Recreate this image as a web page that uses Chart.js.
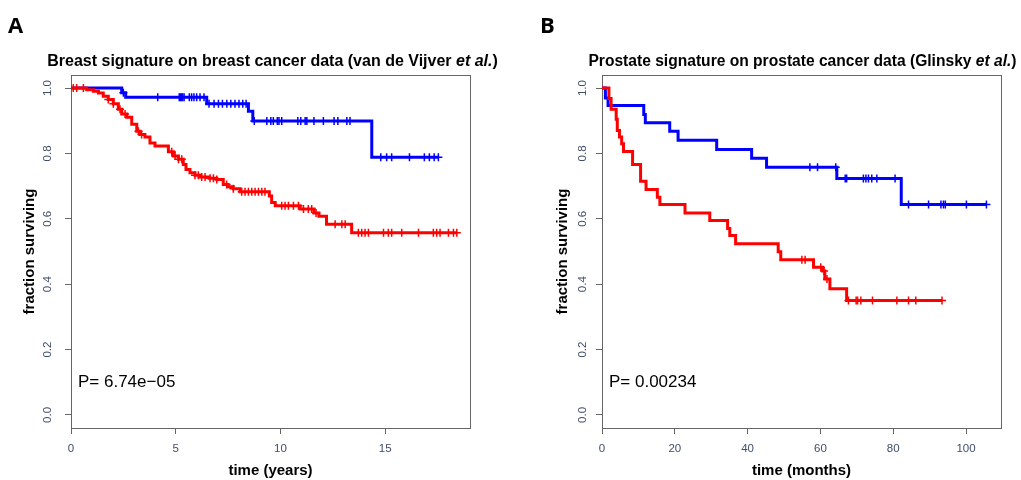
<!DOCTYPE html>
<html>
<head>
<meta charset="utf-8">
<script src="https://cdn.jsdelivr.net/npm/chart.js@4/dist/chart.umd.min.js"></script>
<style>
  body { margin: 0; background: #fff; }
  #wrap { position: relative; width: 1021px; height: 480px; }
  canvas { position: absolute; top: 0; }
  #graficoA { left: 0; }
  #graficoB { left: 510px; }
</style>
</head>
<body>
<div id="wrap">
  <canvas id="graficoA" width="510" height="480"></canvas>
  <canvas id="graficoB" width="511" height="480"></canvas>
</div>
<script>
// --- DATA ---
const yTicks = [0, 0.2, 0.4, 0.6, 0.8, 1.0];
const breastXTicks = [0, 5, 10, 15];
const prostateXTicks = [0, 20, 40, 60, 80, 100];

// breast (years) - low risk group, blue
const breastBlueTimes = [0, 2.42, 2.61, 6.48, 8.47, 8.68, 14.36, 17.54];
const breastBlueSurv  = [1, 0.986, 0.972, 0.952, 0.929, 0.899, 0.788, 0.788];
const breastBlueCensor = [2.5, 4.14, 5.17, 5.22, 5.28, 5.33, 5.4, 5.65, 5.76, 5.87, 6.0, 6.16, 6.35,
  6.59, 6.83, 7.04, 7.23, 7.44, 7.63, 7.83, 8.02, 8.2, 8.36,
  8.75, 9.35, 9.54, 9.66, 9.85, 9.93, 10.06, 10.83, 10.97, 11.18, 11.26, 11.6, 12.05, 12.56, 12.74, 13.17, 13.32,
  14.79, 15.07, 15.31, 16.16, 16.87, 17.11, 17.34, 17.54];

// breast (years) - high risk group, red
const breastRedTimes = [0, 0.75, 1.07, 1.31, 1.54, 1.78, 2.02, 2.26, 2.42, 2.66, 2.9, 3.14, 3.3, 3.53, 3.77, 4.01,
  4.65, 4.89, 5.13, 5.36, 5.49, 5.68, 5.92, 6.16, 6.6, 6.96, 7.27, 7.5, 7.75, 8.07,
  9.47, 9.58, 9.75, 10.94, 11.6, 11.84, 12.2, 13.4, 18.42];
const breastRedSurv = [1, 0.995, 0.99, 0.985, 0.975, 0.965, 0.952, 0.935, 0.921, 0.911, 0.889, 0.868, 0.858, 0.85, 0.832, 0.823,
  0.805, 0.792, 0.782, 0.766, 0.751, 0.741, 0.733, 0.728, 0.724, 0.72, 0.705, 0.698, 0.692, 0.683,
  0.67, 0.65, 0.64, 0.63, 0.618, 0.608, 0.583, 0.557, 0.557];
const breastRedCensor = [0.11, 0.27, 0.59, 1.78, 2.02, 2.34, 2.58, 3.22, 3.37, 4.81, 4.97, 5.13, 5.29,
  5.92, 6.08, 6.24, 6.4, 6.64, 6.8, 6.96, 7.43, 7.75,
  8.15, 8.31, 8.47, 8.63, 8.79, 8.95, 9.11, 9.26,
  10.06, 10.22, 10.38, 10.62, 10.86, 11.1, 11.33, 11.49, 11.7,
  12.61, 12.93, 13.09,
  13.72, 13.88, 14.04, 14.2, 14.92, 15.15, 15.31, 15.79, 16.59, 17.3, 17.46, 17.62, 18.02, 18.26, 18.42];

// prostate (months) - low risk group, blue
const prostateBlueTimes = [0, 0.93, 1.66, 11.47, 11.9, 18.6, 20.9, 31.5, 41.1, 45.2, 64.5, 82.2, 105.6];
const prostateBlueSurv  = [1, 0.97, 0.947, 0.919, 0.894, 0.868, 0.84, 0.812, 0.785, 0.758, 0.723, 0.644, 0.644];
const prostateBlueCensor = [57.1, 59.2, 64.2, 66.8, 67.2, 71.8, 72.5, 73.2, 74.1, 75.5, 80.5,
  84.2, 89.7, 93.1, 93.8, 94.3, 100.1, 105.6];

// prostate (months) - high risk group, red
const prostateRedTimes = [0, 1.9, 2.5, 3.9, 4.2, 4.8, 5.4, 5.9, 8.4, 10.6, 12.1, 15.2, 15.9, 22.8, 29.6,
  34.5, 35.1, 36.7, 48.4, 49.1, 58.1, 60.6, 61.2, 62.6, 67.2, 93.4];
const prostateRedSurv = [1, 0.968, 0.935, 0.905, 0.87, 0.85, 0.83, 0.806, 0.766, 0.715, 0.69, 0.666, 0.644, 0.618, 0.595,
  0.57, 0.549, 0.524, 0.499, 0.475, 0.452, 0.44, 0.416, 0.386, 0.35, 0.35];
const prostateRedCensor = [54.9, 55.8, 60.1, 61.0, 61.8, 67.7, 69.8, 70.2, 71.1, 74.3, 81.0, 84.2, 86.2, 93.4];

// --- HELPERS ---
function survAt(times, surv, t) {
  let s = surv[0];
  for (let i = 0; i < times.length; i++) {
    if (times[i] <= t) s = surv[i];
  }
  return s;
}

function stepSet(times, surv, color) {
  return {
    type: 'line',
    data: times.map((t, i) => ({ x: t, y: surv[i] })),
    borderColor: color,
    borderWidth: 3,
    stepped: true,
    pointRadius: 0,
    fill: false,
    borderCapStyle: 'butt',
    borderJoinStyle: 'miter'
  };
}

function censorSet(times, surv, censor, color) {
  return {
    type: 'scatter',
    data: censor.map(t => ({ x: t, y: survAt(times, surv, t) })),
    borderColor: color,
    backgroundColor: color,
    pointStyle: 'cross',
    pointRadius: 4,
    borderWidth: 1.5,
    showLine: false
  };
}

// box, panel letter, title and p value
const panelPlugin = {
  id: 'panel',
  beforeDatasetsDraw(chart, args, opts) {
    const ctx = chart.ctx, a = chart.chartArea;
    ctx.save();
    ctx.strokeStyle = '#666';
    ctx.lineWidth = 1;
    ctx.strokeRect(Math.round(a.left) + 0.5, Math.round(a.top) + 0.5,
      Math.round(a.right - a.left), Math.round(a.bottom - a.top));
    ctx.restore();
  },
  afterDraw(chart, args, opts) {
    const ctx = chart.ctx, a = chart.chartArea;
    ctx.save();
    ctx.fillStyle = '#000';
    ctx.textBaseline = 'alphabetic';
    ctx.font = 'bold 22px "Open Sans"';
    ctx.fillText(opts.letter, opts.letterX, 33);

    const f1 = 'bold ' + opts.titleSize + 'px "Liberation Sans"';
    const f2 = 'italic bold ' + opts.titleSize + 'px "Liberation Sans"';
    const parts = [[opts.title, f1], ['et al.', f2], [')', f1]];
    let w = 0;
    parts.forEach(p => { ctx.font = p[1]; w += ctx.measureText(p[0]).width; });
    let x = opts.titleCenter - w / 2;
    ctx.textBaseline = 'middle';
    parts.forEach(p => { ctx.font = p[1]; ctx.fillText(p[0], x, 62); x += ctx.measureText(p[0]).width; });

    ctx.font = '17px "Liberation Sans"';
    ctx.fillText(opts.pText, a.left + 7, 382);
    ctx.restore();
  }
};

Chart.defaults.font.family = '"Liberation Sans", Arial, sans-serif';
const tickColor = '#414d6a';

function makeChart(id, cfg) {
  return new Chart(document.getElementById(id), {
    type: 'line',
    data: {
      datasets: [
        censorSet(cfg.redTimes, cfg.redSurv, cfg.redCensor, '#ff0000'),
        stepSet(cfg.redTimes, cfg.redSurv, '#ff0000'),
        censorSet(cfg.blueTimes, cfg.blueSurv, cfg.blueCensor, '#0000ff'),
        stepSet(cfg.blueTimes, cfg.blueSurv, '#0000ff')
      ]
    },
    plugins: [panelPlugin],
    options: {
      responsive: false,
      animation: false,
      layout: { padding: { top: 75, left: 0, right: cfg.padRight, bottom: 0 } },
      plugins: {
        legend: { display: false },
        tooltip: { enabled: false },
        panel: cfg.panel
      },
      scales: {
        x: {
          type: 'linear',
          min: 0,
          max: cfg.xMax,
          afterBuildTicks: s => { s.ticks = cfg.xTicks.map(v => ({ value: v })); },
          afterFit: s => { s.height = 52; },
          grid: { drawOnChartArea: false, tickLength: 6, tickColor: '#666', tickWidth: 1 },
          border: { display: true, color: '#666', width: 1 },
          ticks: { color: tickColor, font: { size: 11.5 }, padding: 8, maxRotation: 0, autoSkip: false },
          title: { display: true, text: cfg.xTitle, color: '#000', font: { size: 15, weight: 'bold' }, padding: { top: 0, bottom: 0 } }
        },
        y: {
          type: 'linear',
          min: -0.04,
          max: 1.04,
          afterBuildTicks: s => { s.ticks = yTicks.map(v => ({ value: v })); },
          afterFit: s => { s.width = cfg.yWidth; },
          grid: { drawOnChartArea: false, tickLength: 6, tickColor: '#666', tickWidth: 1 },
          border: { display: true, color: '#666', width: 1 },
          ticks: {
            color: tickColor, font: { size: 11.5 }, padding: cfg.yPad,
            minRotation: 90, maxRotation: 90, crossAlign: 'center', autoSkip: false,
            callback: v => v.toFixed(1)
          },
          title: { display: true, text: 'fraction surviving', color: '#000', font: { size: 15, weight: 'bold' }, padding: { top: cfg.yTitlePad, bottom: 0 } }
        }
      }
    }
  });
}

makeChart('graficoA', {
  blueTimes: breastBlueTimes, blueSurv: breastBlueSurv, blueCensor: breastBlueCensor,
  redTimes: breastRedTimes, redSurv: breastRedSurv, redCensor: breastRedCensor,
  xTicks: breastXTicks, xMax: 19.05, xTitle: 'time (years)',
  padRight: 40, yWidth: 71, yPad: 9, yTitlePad: 21,
  panel: { letter: 'A', letterX: 8, title: 'Breast signature on breast cancer data (van de Vijver ', titleSize: 16, titleCenter: 272.5, pText: 'P= 6.74e\u221205' }
});

makeChart('graficoB', {
  blueTimes: prostateBlueTimes, blueSurv: prostateBlueSurv, blueCensor: prostateBlueCensor,
  redTimes: prostateRedTimes, redSurv: prostateRedSurv, redCensor: prostateRedCensor,
  xTicks: prostateXTicks, xMax: 109.6, xTitle: 'time (months)',
  padRight: 20, yWidth: 92, yPad: 5, yTitlePad: 44,
  panel: { letter: 'B', letterX: 30, title: 'Prostate signature on prostate cancer data (Glinsky ', titleSize: 15.6, titleCenter: 292.5, pText: 'P= 0.00234' }
});
</script>
</body>
</html>
